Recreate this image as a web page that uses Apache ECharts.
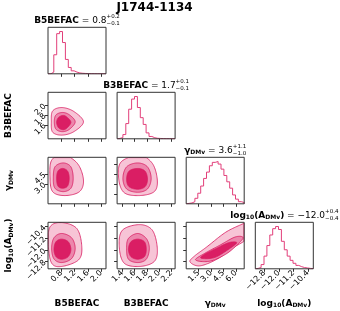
<!DOCTYPE html>
<html><head><meta charset="utf-8">
<script src="https://cdn.jsdelivr.net/npm/echarts@6/dist/echarts.min.js"></script>
<style>html,body{margin:0;padding:0;background:#fff}#c{width:340px;height:311px}</style>
</head><body><div id="c"></div>
<script>
// ---- data ----
const b5Range = [0.4, 2.15];
const b3Range = [1.315, 2.26];
const gamRange = [0, 7];
const logARange = [-13.3, -10.1];
const b5Ticks = [0.8, 1.2, 1.6, 2.0];
const b3Ticks = [1.4, 1.6, 1.8, 2.0, 2.2];
const gamTicks = [1.5, 3.0, 4.5, 6.0];
const logATicks = [-12.8, -12.0, -11.2, -10.4];
// normalised 20-bin histograms
const b5Hist = [0.0, 0.04, 0.45, 0.95, 1.0, 0.74, 0.34, 0.15, 0.07, 0.04, 0.02, 0.012, 0.008, 0.005, 0.003, 0.002, 0.001, 0.001, 0.0, 0.001];
const b3Hist = [0.01, 0.03, 0.1, 0.36, 0.7, 0.94, 1.0, 0.74, 0.5, 0.34, 0.14, 0.055, 0.025, 0.012, 0.008, 0.005, 0.003, 0.002, 0.001, 0.001];
const gamHist = [0.01, 0.02, 0.05, 0.13, 0.25, 0.42, 0.6, 0.75, 0.9, 0.98, 1.0, 0.94, 0.82, 0.67, 0.52, 0.37, 0.21, 0.11, 0.05, 0.03];
const logAHist = [0.01, 0.03, 0.1, 0.3, 0.55, 0.8, 0.95, 1.0, 0.93, 0.65, 0.45, 0.3, 0.2, 0.13, 0.08, 0.05, 0.03, 0.02, 0.01, 0.005];
// contour levels (outer, middle, inner), vertices in data units
const cB3vsB5 = [
  [[1.47,1.66],[1.18,1.87],[0.82,1.95],[0.54,1.88],[0.50,1.66],[0.54,1.45],[0.82,1.39],[1.18,1.46]],
  [[1.22,1.66],[1.05,1.80],[0.84,1.85],[0.64,1.80],[0.59,1.66],[0.64,1.51],[0.84,1.46],[1.05,1.51]],
  [[1.09,1.65],[0.98,1.75],[0.86,1.79],[0.72,1.75],[0.66,1.65],[0.72,1.54],[0.86,1.50],[0.98,1.54]]
];
const cGamVsB5 = [
  [[1.47,3.6],[1.29,6.06],[0.86,7.4],[0.51,6.56],[0.46,4.07],[0.54,1.83],[0.91,1.24],[1.35,1.83]],
  [[1.16,3.83],[1.09,5.56],[0.86,6.15],[0.61,5.56],[0.56,3.83],[0.61,2.34],[0.86,1.83],[1.09,2.34]],
  [[1.04,3.83],[0.99,4.92],[0.84,5.32],[0.70,4.92],[0.66,3.83],[0.70,2.68],[0.84,2.34],[0.99,2.68]]
];
const cGamVsB3 = [
  [[1.97,3.58],[1.89,6.07],[1.68,7.3],[1.38,6.3],[1.34,3.83],[1.43,1.68],[1.68,1.24],[1.92,1.83]],
  [[1.87,3.83],[1.81,5.56],[1.65,6.15],[1.47,5.56],[1.41,3.83],[1.47,2.24],[1.65,1.74],[1.81,2.24]],
  [[1.81,3.68],[1.77,4.92],[1.65,5.32],[1.51,4.92],[1.47,3.68],[1.51,2.58],[1.65,2.19],[1.77,2.58]]
];
const cLogAVsB5 = [
  [[1.42,-11.78],[1.27,-10.53],[0.81,-10.12],[0.46,-10.42],[0.41,-11.67],[0.51,-12.91],[0.81,-13.14],[1.32,-12.69]],
  [[1.22,-11.89],[1.11,-11.16],[0.81,-10.87],[0.58,-11.17],[0.51,-11.89],[0.58,-12.62],[0.81,-12.87],[1.11,-12.6]],
  [[1.09,-11.96],[1.01,-11.44],[0.81,-11.26],[0.64,-11.44],[0.58,-11.96],[0.64,-12.46],[0.81,-12.64],[1.01,-12.46]]
];
const cLogAVsB3 = [
  [[1.97,-11.89],[1.89,-10.65],[1.68,-10.26],[1.40,-10.65],[1.35,-11.78],[1.43,-12.91],[1.68,-13.14],[1.92,-12.8]],
  [[1.84,-11.89],[1.79,-11.21],[1.65,-10.87],[1.50,-11.21],[1.47,-11.89],[1.50,-12.64],[1.65,-12.87],[1.79,-12.64]],
  [[1.79,-11.96],[1.76,-11.44],[1.65,-11.26],[1.54,-11.44],[1.50,-11.96],[1.54,-12.46],[1.65,-12.64],[1.76,-12.46]]
];
const cLogAVsGam = [
  [[0.46,-12.82],[1.62,-13.1],[3.68,-12.65],[5.63,-11.87],[7.7,-11.05],[7.9,-9.9],[6.96,-10.17],[4.78,-10.78],[2.47,-11.8],[1.01,-12.42]],
  [[1.13,-12.69],[2.83,-12.78],[4.9,-12.25],[6.48,-11.46],[6.84,-11.12],[5.87,-11.12],[4.05,-11.68],[2.22,-12.24]],
  [[1.8,-12.57],[3.44,-12.52],[5.26,-11.9],[6.1,-11.5],[5.14,-11.5],[3.44,-11.95],[2.22,-12.3]]
];

// ---- styling / layout ----
const FAM = '"DejaVu Sans"';
const histColor = '#e23f7a';
const lineColor = '#d81b60';
const levelColors = ['#f7c4d6', '#ec86ac', '#da1e64'];
const colLeft = [48, 117.1, 186.2, 255.3];
const rowTop = [27.3, 92.3, 157.3, 222.3];
const PW = 58, PH = 46.5;

const params = [
  {range: b5Range, ticks: b5Ticks, hist: b5Hist},
  {range: b3Range, ticks: b3Ticks, hist: b3Hist},
  {range: gamRange, ticks: gamTicks, hist: gamHist},
  {range: logARange, ticks: logATicks, hist: logAHist}
];
const contours = {'1,0': cB3vsB5, '2,0': cGamVsB5, '2,1': cGamVsB3, '3,0': cLogAVsB5, '3,1': cLogAVsB3, '3,2': cLogAVsGam};

function fmt(v) { return (v < 0 ? '\u2212' : '') + Math.abs(v).toFixed(1); }

// closed Catmull-Rom curve through pixel vertices
function smoothClosed(pts, n) {
  const out = [], L = pts.length;
  for (let i = 0; i < L; i++) {
    const p0 = pts[(i - 1 + L) % L], p1 = pts[i], p2 = pts[(i + 1) % L], p3 = pts[(i + 2) % L];
    for (let k = 0; k < n; k++) {
      const t = k / n, t2 = t * t, t3 = t2 * t;
      const f = (a, b, c, d) => 0.5 * ((2 * b) + (-a + c) * t + (2 * a - 5 * b + 4 * c - d) * t2 + (-a + 3 * b - 3 * c + d) * t3);
      out.push([f(p0[0], p1[0], p2[0], p3[0]), f(p0[1], p1[1], p2[1], p3[1])]);
    }
  }
  return out;
}
// Sutherland-Hodgman clip against rectangle
function clipRect(poly, x0, y0, x1, y1) {
  const edges = [
    [p => p[0] >= x0, (a, b) => { const t = (x0 - a[0]) / (b[0] - a[0]); return [x0, a[1] + t * (b[1] - a[1])]; }],
    [p => p[0] <= x1, (a, b) => { const t = (x1 - a[0]) / (b[0] - a[0]); return [x1, a[1] + t * (b[1] - a[1])]; }],
    [p => p[1] >= y0, (a, b) => { const t = (y0 - a[1]) / (b[1] - a[1]); return [a[0] + t * (b[0] - a[0]), y0]; }],
    [p => p[1] <= y1, (a, b) => { const t = (y1 - a[1]) / (b[1] - a[1]); return [a[0] + t * (b[0] - a[0]), y1]; }]
  ];
  let out = poly;
  edges.forEach(([inside, inter]) => {
    const inp = out; out = [];
    for (let i = 0; i < inp.length; i++) {
      const cur = inp[i], prev = inp[(i - 1 + inp.length) % inp.length];
      const ci = inside(cur), pi = inside(prev);
      if (ci) { if (!pi) out.push(inter(prev, cur)); out.push(cur); }
      else if (pi) out.push(inter(prev, cur));
    }
  });
  return out;
}

const grids = [], xAxes = [], yAxes = [], series = [];
for (let r = 0; r < 4; r++) {
  for (let c = 0; c <= r; c++) {
    const gi = grids.length;
    grids.push({left: colLeft[c], top: rowTop[r], width: PW, height: PH, show: true, z: 5,
      borderColor: '#333', borderWidth: 1, backgroundColor: 'transparent', containLabel: false});
    const px = params[c];
    xAxes.push({type: 'value', gridIndex: gi, min: px.range[0], max: px.range[1],
      axisLine: {show: false}, splitLine: {show: false},
      axisTick: {show: true, length: 3, customValues: px.ticks, lineStyle: {color: '#333', width: 1}},
      axisLabel: {show: r === 3, customValues: px.ticks, rotate: 45, fontSize: 8, margin: 3,
        color: '#000', fontFamily: FAM, formatter: fmt}});
    if (r === c) {
      yAxes.push({type: 'value', gridIndex: gi, min: 0, max: 1.1, show: false});
      const w = (px.range[1] - px.range[0]) / px.hist.length;
      const pts = [[px.range[0], 0]];
      px.hist.forEach((h, i) => pts.push([px.range[0] + i * w, h]));
      pts.push([px.range[1], 0]);
      series.push({type: 'line', xAxisIndex: gi, yAxisIndex: gi, step: 'end', data: pts,
        showSymbol: false, symbol: 'none', silent: true, animation: false,
        lineStyle: {color: histColor, width: 1}});
    } else {
      const py = params[r];
      yAxes.push({type: 'value', gridIndex: gi, min: py.range[0], max: py.range[1],
        axisLine: {show: false}, splitLine: {show: false},
        axisTick: {show: true, length: 3, customValues: py.ticks, lineStyle: {color: '#333', width: 1}},
        axisLabel: {show: c === 0, customValues: py.ticks, rotate: 45, fontSize: 8, margin: 3,
          color: '#000', fontFamily: FAM, formatter: fmt}});
      const set = contours[r + ',' + c];
      series.push({type: 'custom', xAxisIndex: gi, yAxisIndex: gi, silent: true, animation: false,
        data: set.map(p => p[0]),
        renderItem: function (prm, api) {
          const poly = set[prm.dataIndex];
          const cs = prm.coordSys;
          const pts = clipRect(smoothClosed(poly.map(p => api.coord(p)), 14),
            cs.x + 0.3, cs.y + 0.3, cs.x + cs.width - 0.3, cs.y + cs.height - 0.3);
          return {type: 'polygon', shape: {points: pts},
            style: {fill: levelColors[prm.dataIndex], stroke: lineColor, lineWidth: 0.8}};
        }});
    }
  }
}

// ---- text helpers ----
const mctx = document.createElement('canvas').getContext('2d');
function tw(t, font) { mctx.font = font; return mctx.measureText(t).width; }
function txt(t, x, y, font) {
  return {type: 'text', x: x, y: y, silent: true,
    style: {text: t, font: font, fill: '#000', textAlign: 'left', textVerticalAlign: 'middle', align: 'left', verticalAlign: 'middle'}};
}
function mathGroup(pieces, cx, cy, rot) {
  let x = 0; const kids = [];
  pieces.forEach(p => {
    const font = (p.bold ? 'bold ' : '') + p.size + 'px ' + FAM;
    if (p.sup !== undefined) {
      const w = Math.max(tw(p.sup, font), tw(p.sub, font));
      kids.push(txt(p.sup, x, -3.8, font));
      kids.push(txt(p.sub, x, 2.6, font));
      x += w;
    } else {
      kids.push(txt(p.t, x, p.dy || 0, font));
      x += tw(p.t, font);
    }
  });
  kids.forEach(k => { k.x -= x / 2; });
  return {type: 'group', x: cx, y: cy, rotation: rot || 0, children: kids};
}
const S = 9, s = 6, ss = 5.5;
const nameB5 = [{t: 'B5BEFAC', size: S, bold: true}];
const nameB3 = [{t: 'B3BEFAC', size: S, bold: true}];
const nameGam = [{t: '\u03b3', size: S, bold: true}, {t: 'DMv', size: s, bold: true, dy: 2}];
const nameLogA = [{t: 'log', size: S, bold: true}, {t: '10', size: s, bold: true, dy: 2},
  {t: '(A', size: S, bold: true}, {t: 'DMv', size: s, bold: true, dy: 2}, {t: ')', size: S, bold: true}];
const names = [nameB5, nameB3, nameGam, nameLogA];
const medians = ['0.8', '1.7', '3.6', '\u221212.0'];
const errUp = ['+0.2', '+0.1', '+1.1', '+0.4'];
const errDn = ['\u22120.1', '\u22120.1', '\u22121.0', '\u22120.4'];

const graphics = [{type: 'text', x: 154.5, y: 8, silent: true,
  style: {text: 'J1744-1134', font: 'bold 12px ' + FAM, fill: '#000', textAlign: 'center', textVerticalAlign: 'middle', align: 'center', verticalAlign: 'middle'}}];
for (let i = 0; i < 4; i++) {
  const pieces = names[i].concat([{t: ' = ' + medians[i], size: S}, {sup: errUp[i], sub: errDn[i], size: ss}]);
  graphics.push(mathGroup(pieces, colLeft[i] + PW / 2, rowTop[i] - 6.7, 0));
  graphics.push(mathGroup(names[i], colLeft[i] + PW / 2, 303.5, 0));
  if (i > 0) graphics.push(mathGroup(names[i], 9, rowTop[i] + PH / 2, Math.PI / 2));
}

const chart = echarts.init(document.getElementById('c'), null, {renderer: 'canvas'});
chart.setOption({
  animation: false,
  backgroundColor: '#fff',
  textStyle: {fontFamily: FAM},
  grid: grids, xAxis: xAxes, yAxis: yAxes, series: series, graphic: graphics
});
</script></body></html>
